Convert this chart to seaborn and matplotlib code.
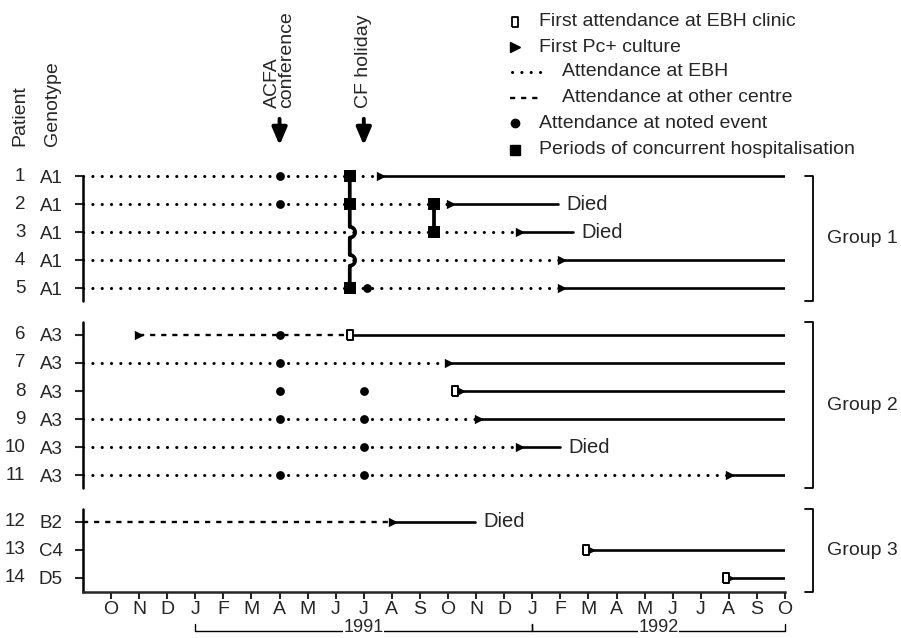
import matplotlib.pyplot as plt
import numpy as np
import pandas as pd
import seaborn as sns
from matplotlib.lines import Line2D

# months from Oct 1990 (0) to Oct 1992 (24)
months = list("ONDJFMAMJJASONDJFMAMJJASO")
patients = list(range(1, 15))
genotypes = ["A1"] * 5 + ["A3"] * 6 + ["B2", "C4", "D5"]
groups = [1] * 5 + [2] * 6 + [3] * 3

# (patient, start month, end month)
ebh_dotted = [(1, -1, 9.6), (2, -1, 12.1), (3, -1, 14.55), (4, -1, 16.05), (5, -1, 16.05),
              (7, -1, 12.05), (9, -1, 13.1), (10, -1, 14.55), (11, -1, 22.05)]
other_dashed = [(6, 1.0, 8.5), (12, -1, 10.05)]
followup_solid = [(1, 9.6, 24), (2, 12.1, 15.9), (3, 14.55, 16.45), (4, 16.05, 24), (5, 16.05, 24),
                  (6, 8.5, 24), (7, 12.05, 24), (8, 12.45, 24), (9, 13.1, 24), (10, 14.55, 16.0),
                  (11, 22.05, 24), (12, 10.05, 12.95), (13, 17.1, 24), (14, 22.05, 24)]
# (patient, month)
first_ebh = [(6, 8.5), (8, 12.25), (13, 16.9), (14, 21.9)]
first_pc = [(1, 9.6), (2, 12.1), (3, 14.55), (4, 16.05), (5, 16.05), (6, 1.0), (7, 12.05),
            (8, 12.45), (9, 13.1), (10, 14.55), (11, 22.05), (12, 10.05), (13, 17.1), (14, 22.05)]
noted_event = [(1, 6), (2, 6), (6, 6), (7, 6), (8, 6), (9, 6), (11, 6),
               (5, 9.1), (8, 9), (9, 9), (10, 9), (11, 9)]
hospital = [(1, 8.5), (2, 8.5), (5, 8.5), (2, 11.5), (3, 11.5)]
hosp_spans = [(8.5, 1, 5), (11.5, 2, 3)]
died = [2, 3, 10, 12]
events = [("ACFA\nconference", 6), ("CF holiday", 9)]
years = [("1991", 3, 15), ("1992", 15, 24)]


def pos(p):
    return (p - 1) + 0.65 * (groups[p - 1] - 1)


def fx(px):
    return px / 901


def fy(py):
    return 1 - py / 638


sns.set_style("ticks")
plt.rcParams["font.family"] = ["Liberation Sans", "DejaVu Sans"]
FS = 14

fig = plt.figure(figsize=(9.01, 6.38), dpi=100)
ax = fig.add_axes([fx(83), fy(592), 702 / 901, 430 / 638])
ax.set_xlim(-1, 24)
ax.set_ylim(14.8, -0.5)

dotted = dict(color="k", lw=2.2, linestyle=(0, (0.05, 3.0)), dash_capstyle="round")
dashed = dict(color="k", lw=1.7, linestyle=(0, (2.2, 2.5)))
solid = dict(color="k", lw=1.9)

for p, a, b in ebh_dotted:
    ax.plot([a, b], [pos(p), pos(p)], **dotted)
for p, a, b in other_dashed:
    ax.plot([a, b], [pos(p), pos(p)], **dashed)
for p, a, b in followup_solid:
    ax.plot([a, b], [pos(p), pos(p)], **solid)

# hospitalisation connectors, hopping over rows not in hospital
hosp_set = set(hospital)
rx, ry = 0.19, 0.19
for x, p0, p1 in hosp_spans:
    xs, ys = [x], [pos(p0)]
    for p in range(p0 + 1, p1):
        if (p, x) not in hosp_set:
            t = np.linspace(-np.pi / 2, np.pi / 2, 20)
            xs += list(x + rx * np.cos(t))
            ys += list(pos(p) + ry * np.sin(t))
    xs.append(x)
    ys.append(pos(p1))
    ax.plot(xs, ys, color="k", lw=2.7, zorder=3)

ebh_marker = [(-0.55, -1), (0.55, -1), (0.55, 1), (-0.55, 1), (-0.55, -1)]

df_pc = pd.DataFrame(first_pc, columns=["patient", "month"])
df_pc["y"] = df_pc["patient"].map(pos)
df_ebh = pd.DataFrame(first_ebh, columns=["patient", "month"])
df_ebh["y"] = df_ebh["patient"].map(pos)
df_ev = pd.DataFrame(noted_event, columns=["patient", "month"])
df_ev["y"] = df_ev["patient"].map(pos)
df_h = pd.DataFrame(hospital, columns=["patient", "month"])
df_h["y"] = df_h["patient"].map(pos)

sns.scatterplot(data=df_pc, x="month", y="y", marker=">", s=45, color="k",
                edgecolor="k", linewidth=0, ax=ax, zorder=4)
sns.scatterplot(data=df_ebh, x="month", y="y", marker=ebh_marker, s=55, facecolor="white",
                edgecolor="k", linewidth=1.4, ax=ax, zorder=5)
sns.scatterplot(data=df_ev, x="month", y="y", marker="o", s=40, color="k",
                edgecolor="k", linewidth=0, ax=ax, zorder=4)
sns.scatterplot(data=df_h, x="month", y="y", marker="s", s=64, color="k",
                edgecolor="k", linewidth=0, ax=ax, zorder=4)

ends = {p: b for p, a, b in followup_solid}
for p in died:
    ax.text(ends[p] + 0.3, pos(p), "Died", fontsize=FS + 0.5, va="center", ha="left")

# axes styling
ax.set_xlabel("")
ax.set_ylabel("")
ax.set_xticks(range(len(months)))
ax.set_xticklabels(months, fontsize=FS)
ax.set_yticks([pos(p) for p in patients])
ax.set_yticklabels(genotypes, fontsize=FS - 0.5)
ax.tick_params(axis="x", length=5, width=1.5, pad=1.5)
ax.tick_params(axis="y", length=6, width=1.5, pad=8.5)
for lab in ax.get_yticklabels():
    lab.set_horizontalalignment("right")
for s in ["top", "right", "left"]:
    ax.spines[s].set_visible(False)
ax.spines["bottom"].set_linewidth(1.8)

ytr = ax.get_yaxis_transform()
for p in patients:
    ax.text(-0.082, pos(p), str(p), transform=ytr, fontsize=FS - 0.5, ha="right", va="center")

# broken left spine and right group brackets
for g in [1, 2, 3]:
    members = [p for p in patients if groups[p - 1] == g]
    top = pos(members[0]) - (0 if g == 1 else 0.45)
    bot = pos(members[-1]) + (0.5 if g == 3 else 0.45)
    ax.plot([-1, -1], [top, bot], color="k", lw=1.8, clip_on=False)
    ax.plot([1.029, 1.04, 1.04, 1.029], [top, top, bot, bot], color="k", lw=1.3,
            transform=ytr, clip_on=False)
    ax.text(1.06, (top + bot) / 2, f"Group {g}", transform=ytr, fontsize=FS,
            ha="left", va="center")

# year brackets under month labels
xtr = ax.get_xaxis_transform()
for label, a, b in years:
    ax.plot([a, a, b, b], [-0.0744, -0.0907, -0.0907, -0.0744], color="k", lw=1.0,
            transform=xtr, clip_on=False)
    ax.text((a + b) / 2, -0.0814, label, transform=xtr, fontsize=FS - 1, ha="center",
            va="center", bbox=dict(facecolor="white", edgecolor="none", pad=0.3),
            clip_on=False)

# column headers
fig.text(fx(20), fy(146), "Patient", rotation=90, fontsize=FS, ha="center", va="bottom")
fig.text(fx(52), fy(146), "Genotype", rotation=90, fontsize=FS, ha="center", va="bottom")

# event arrows
for label, m in events:
    ax.annotate("", xy=(m, fy(148)), xytext=(m, fy(116)), xycoords=("data", "figure fraction"),
                textcoords=("data", "figure fraction"),
                arrowprops=dict(arrowstyle="-|>,head_width=0.32,head_length=0.75", lw=2.8,
                                color="k", mutation_scale=14))
    ax.annotate(label, xy=(m, fy(108)), xycoords=("data", "figure fraction"), rotation=90,
                fontsize=FS, ha="center", va="bottom", multialignment="left",
                linespacing=0.8)

# legend drawn by hand
leg_y = [22, 47, 72, 98, 123, 150]
leg_text = ["First attendance at EBH clinic", "First Pc+ culture", "Attendance at EBH",
            "Attendance at other centre", "Attendance at noted event",
            "Periods of concurrent hospitalisation"]
leg_x = [539, 539, 562, 562, 539, 539]
for y, t, x in zip(leg_y, leg_text, leg_x):
    fig.text(fx(x), fy(y), t, fontsize=FS, ha="left", va="center")
fig.add_artist(Line2D([fx(515)], [fy(leg_y[0])], marker=ebh_marker, markersize=7.5,
                      markerfacecolor="white", markeredgecolor="k", markeredgewidth=1.3,
                      linestyle="none", transform=fig.transFigure))
fig.add_artist(Line2D([fx(515)], [fy(leg_y[1])], marker=">", markersize=6.5, color="k",
                      linestyle="none", transform=fig.transFigure))
fig.add_artist(Line2D([fx(512), fx(542)], [fy(leg_y[2])] * 2, transform=fig.transFigure, **dotted))
fig.add_artist(Line2D([fx(510), fx(542)], [fy(leg_y[3])] * 2, transform=fig.transFigure, **dashed))
fig.add_artist(Line2D([fx(515)], [fy(leg_y[4])], marker="o", markersize=6, color="k",
                      linestyle="none", transform=fig.transFigure))
fig.add_artist(Line2D([fx(515)], [fy(leg_y[5])], marker="s", markersize=7.5, color="k",
                      linestyle="none", transform=fig.transFigure))

fig.savefig("out.png", dpi=100)
